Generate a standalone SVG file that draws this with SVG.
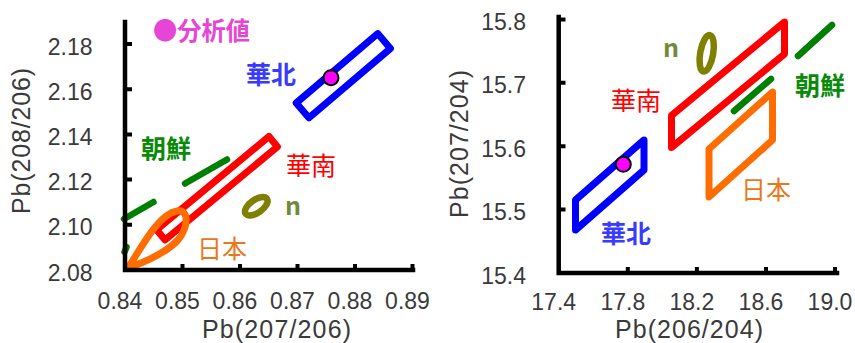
<svg xmlns="http://www.w3.org/2000/svg" width="855" height="343" viewBox="0 0 855 343">
<style>
.ax{stroke:#000;stroke-width:4.5;fill:none;stroke-linecap:square}
.tk{stroke:#000;stroke-width:4;fill:none}
.num{font-family:"Liberation Sans",Arial,sans-serif;font-size:23px;fill:#3a3a3a}
.ttl{font-family:"Liberation Sans",Arial,sans-serif;font-size:25px;fill:#3a3a3a}
.jp{font-family:"Noto Sans CJK JP","Noto Sans",sans-serif;font-size:25px}
.b{font-weight:bold}
.shape{fill:none;stroke-width:7;stroke-linejoin:round}
.blue{stroke:#0000ff}
.red{stroke:#ff0000}
.org{stroke:#ff6c00}
.grn{stroke:#008000;stroke-width:6.5;stroke-linecap:round;fill:none}
.olv{fill:none;stroke:#808000;stroke-width:6.5}
.pt{fill:#ff00ff;stroke:#000;stroke-width:2}
</style>
<rect width="855" height="343" fill="#fff"/>

<!-- LEFT PLOT -->
<g id="left-data">
  <g id="L-korea">
    <line class="grn" x1="124" y1="219" x2="153.5" y2="202"/>
    <line class="grn" x1="185" y1="183.5" x2="227" y2="159.5"/>
    <line class="grn" x1="124.5" y1="252" x2="126.5" y2="247" stroke-width="5"/>
    <text class="jp b" x="141" y="158" fill="#0a8a0a">朝鮮</text>
  </g>
  <g id="L-south-china">
    <polygon class="shape red" points="156.6,229.8 165.1,239.9 277.4,146.7 269,136.5"/>
    <text class="jp" x="286" y="175" fill="#ff0000">華南</text>
  </g>
  <g id="L-japan">
    <path class="shape org" d="M128,268 C140,250 158,214 177,211 C190,209 188,228 178,240 C165,254 145,262 128,268 Z"/>
    <text class="jp" x="197" y="258" fill="#e8781e">日本</text>
  </g>
  <g id="L-north-china">
    <polygon class="shape blue" points="296.2,103 308.9,117.8 390.4,48.5 377.7,33.6"/>
    <text class="jp b" x="246" y="84" fill="#3a3aff">華北</text>
  </g>
  <g id="L-n">
    <ellipse class="olv" cx="256.3" cy="206.3" rx="13" ry="6.5" transform="rotate(-35 256.3 206.3)"/>
    <text class="jp b" x="285" y="215" font-size="22" fill="#728a3a">n</text>
  </g>
  <g id="L-point">
    <circle class="pt" cx="331" cy="77.7" r="7.5"/>
  </g>
  <g id="legend">
    <text class="jp b" x="153" y="40" font-size="23" textLength="97" lengthAdjust="spacingAndGlyphs" fill="#e645d6">●分析値</text>
  </g>
</g>

<g id="left-axes">
  <polyline class="ax" points="125,22 125,270 413,270"/>
  <path class="tk" d="M125,44 H132 M125,89.2 H132 M125,134.4 H132 M125,179.6 H132 M125,224.8 H132"/>
  <path class="tk" d="M182.5,270 V264 M240,270 V264 M297.5,270 V264 M355,270 V264 M412.5,270 V264"/>
  <g class="num" text-anchor="end">
    <text x="92.5" y="54.5">2.18</text>
    <text x="92.5" y="99.7">2.16</text>
    <text x="92.5" y="144.9">2.14</text>
    <text x="92.5" y="190.1">2.12</text>
    <text x="92.5" y="235.3">2.10</text>
    <text x="92.5" y="280.5">2.08</text>
  </g>
  <g class="num" text-anchor="middle">
    <text x="120" y="309">0.84</text>
    <text x="177.5" y="309">0.85</text>
    <text x="235" y="309">0.86</text>
    <text x="292.5" y="309">0.87</text>
    <text x="350" y="309">0.88</text>
    <text x="407.5" y="309">0.89</text>
  </g>
  <text class="ttl" x="202" y="337.5" textLength="149" lengthAdjust="spacing">Pb(207/206)</text>
  <text class="ttl" transform="translate(30,214) rotate(-90)" x="0" y="0" textLength="146" lengthAdjust="spacing">Pb(208/206)</text>
</g>

<!-- RIGHT PLOT -->
<g id="right-data">
  <g id="R-north-china">
    <polygon class="shape blue" points="575.5,200 575.5,230 644,170 644,140"/>
    <text class="jp b" x="601" y="243" fill="#3a3aff">華北</text>
  </g>
  <g id="R-south-china">
    <polygon class="shape red" points="671.5,115.5 671.5,147.5 784.5,54 784.5,22"/>
    <text class="jp" x="611" y="110" fill="#ff0000">華南</text>
  </g>
  <g id="R-japan">
    <polygon class="shape org" points="709,149 709,197 772.5,140 772.5,92"/>
    <text class="jp" x="741" y="199" fill="#e8781e">日本</text>
  </g>
  <g id="R-korea">
    <line class="grn" x1="734" y1="111" x2="771" y2="79"/>
    <line class="grn" x1="798" y1="56" x2="832" y2="25"/>
    <text class="jp b" x="795" y="95" fill="#0a8a0a">朝鮮</text>
  </g>
  <g id="R-n">
    <ellipse class="olv" cx="706.7" cy="53.3" rx="6.5" ry="18.5" transform="rotate(10 706.7 53.3)"/>
    <text class="jp b" x="663" y="57" font-size="22" fill="#728a3a">n</text>
  </g>
  <g id="R-point">
    <circle class="pt" cx="623.3" cy="164.3" r="7.5"/>
  </g>
</g>

<g id="right-axes">
  <polyline class="ax" points="558.7,17 558.7,273 837,273"/>
  <path class="tk" d="M558.7,19.4 H565.5 M558.7,82.8 H565.5 M558.7,146.2 H565.5 M558.7,209.6 H565.5"/>
  <path class="tk" d="M627.8,273 V267 M696.9,273 V267 M766,273 V267 M835,273 V267"/>
  <g class="num" text-anchor="end">
    <text x="526" y="30">15.8</text>
    <text x="526" y="93.4">15.7</text>
    <text x="526" y="156.8">15.6</text>
    <text x="526" y="220.2">15.5</text>
    <text x="526" y="283.6">15.4</text>
  </g>
  <g class="num" text-anchor="middle">
    <text x="553.7" y="309.5">17.4</text>
    <text x="622.8" y="309.5">17.8</text>
    <text x="691.9" y="309.5">18.2</text>
    <text x="761" y="309.5">18.6</text>
    <text x="830" y="309.5">19.0</text>
  </g>
  <text class="ttl" x="615" y="337.5" textLength="148" lengthAdjust="spacing">Pb(206/204)</text>
  <text class="ttl" transform="translate(468,218) rotate(-90)" x="0" y="0" textLength="148" lengthAdjust="spacing">Pb(207/204)</text>
</g>
</svg>
